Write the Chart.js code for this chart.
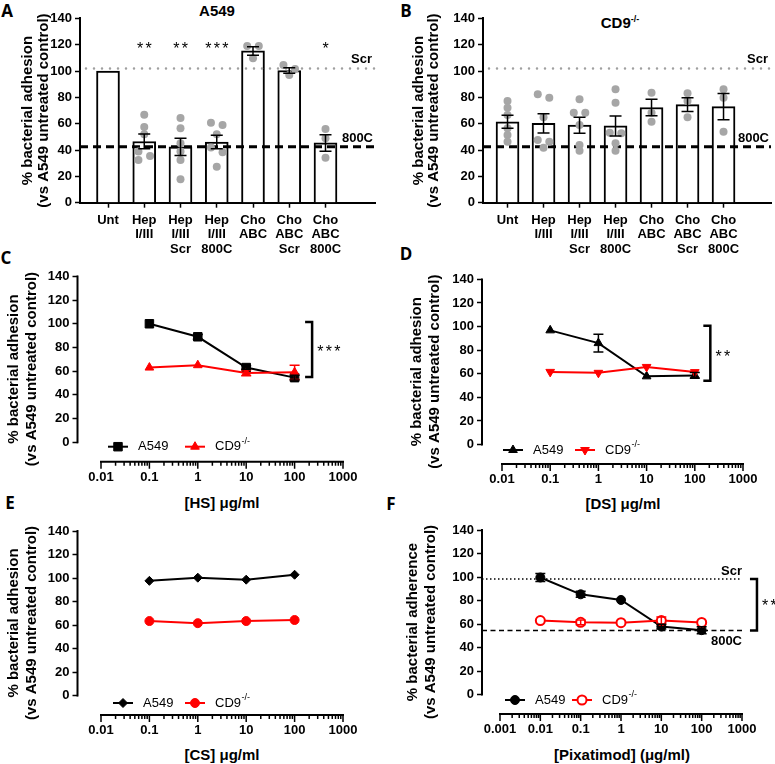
<!DOCTYPE html>
<html>
<head>
<meta charset="utf-8">
<script src="https://cdn.jsdelivr.net/npm/chart.js@4.4.1/dist/chart.umd.min.js"></script>
<style>
  body { margin: 0; background: #fff; }
  #fig { position: relative; width: 775px; height: 764px; overflow: hidden; font-family: 'Liberation Sans', Arial, sans-serif; color: #000; }
  #fig canvas { position: absolute; }
  .t { position: absolute; transform: translate(-50%, -50%); white-space: nowrap; font-weight: bold; line-height: 1; }
  .letter { font-family: 'Open Sans', 'Liberation Sans', sans-serif; font-size: 17px; }
  .ttl { font-size: 15px; }
  .xt { font-size: 15px; }
  sup { font-size: 9px; vertical-align: 6px; line-height: 0; }
</style>
</head>
<body>
<div id="fig">
  <div class="t letter" style="left:7px;top:10px">A</div>
  <div class="t letter" style="left:406px;top:10px">B</div>
  <div class="t letter" style="left:6px;top:257px">C</div>
  <div class="t letter" style="left:406px;top:253px">D</div>
  <div class="t letter" style="left:10px;top:502px">E</div>
  <div class="t letter" style="left:391px;top:503px">F</div>
  <div class="t ttl" style="left:217px;top:10px">A549</div>
  <div class="t ttl" style="left:620px;top:22px">CD9<sup>-/-</sup></div>
  <div class="t xt" style="left:222px;top:502px">[HS] μg/ml</div>
  <div class="t xt" style="left:623px;top:503px">[DS] μg/ml</div>
  <div class="t xt" style="left:222px;top:754px">[CS] μg/ml</div>
  <div class="t xt" style="left:622px;top:754px">[Pixatimod] (μg/ml)</div>
</div>
<script>
// ---------- data ----------
var barLabels = [['Unt'], ['Hep', 'I/III'], ['Hep', 'I/III', 'Scr'], ['Hep', 'I/III', '800C'],
                 ['Cho', 'ABC'], ['Cho', 'ABC', 'Scr'], ['Cho', 'ABC', '800C']];
var yTicks = [0, 20, 40, 60, 80, 100, 120, 140];

// panel A (A549 cells)
var a549Mean = [100, 46.5, 42.4, 46.1, 115.3, 100.4, 45.4];
var a549Sem = [0, 5.6, 6.6, 5.2, 3.2, 2.1, 6.3];
var a549Reps = [[], [66.8, 57.5, 52, 38.8, 35.5, 32.4], [64.3, 56.5, 45.1, 38.8, 32.4, 17.8],
                [59, 60.8, 52, 42, 38.3, 27.3], [119, 119, 109.7], [104.6, 101.5, 97], [56, 48.9, 34.2]];
var a549Stars = ['', '**', '**', '***', '', '', '*'];

// panel B (CD9-/- cells)
var cd9Mean = [61.5, 60.3, 58.9, 58.3, 72.3, 74.5, 73];
var cd9Sem = [5, 7.3, 6.1, 7.6, 6.2, 5.2, 9.9];
var cd9Reps = [[77.2, 72.2, 66.6, 56.5, 51.4, 46.3], [82.3, 79.7, 64.9, 47.6, 46.3, 41.8],
               [78.5, 68.4, 68.4, 59, 43.8, 39.5], [86.1, 76, 53.2, 52.7, 45.1, 39.5],
               [83.6, 68.4, 61.5], [83.1, 77.2, 64.9], [86.1, 79.7, 53.9]];
var scrLevel = 102;
var c800Level = 42.5;

// panels C-E
var concTicks = [0.01, 0.1, 1, 10, 100, 1000];
var conc = [0.1, 1, 10, 100];
var hsA549 = [100, 89, 63, 54.5];
var hsA549Err = [0, 2, 1.5, 2];
var hsCD9 = [63, 65, 58.5, 59];
var hsCD9Err = [0.5, 0.5, 2.5, 6];
var dsA549 = [96.8, 86, 57.8, 58.6];
var dsA549Err = [0.5, 7.5, 1, 2.5];
var dsCD9 = [61.6, 60.8, 65.8, 61.4];
var dsCD9Err = [0.5, 0.5, 1, 1];
var csA549 = [97.6, 100.3, 98.6, 102.8];
var csCD9 = [63.4, 61.6, 63.4, 64.3];

// panel F
var pixTicks = [0.001, 0.01, 0.1, 1, 10, 100, 1000];
var pixConc = [0.01, 0.1, 1, 10, 100];
var pixA549 = [99.6, 85.3, 80.5, 57.9, 54.8];
var pixA549Err = [3.5, 2.5, 1, 2, 3];
var pixCD9 = [63, 61.5, 61.2, 63, 61.4];
var pixCD9Err = [0.5, 2, 0.5, 3, 0.5];
var pixScr = 98.3;
var pix800C = 54.5;

// ---------- layout ----------
var P = {
  A: {left: 0, top: 0, w: 385, h: 262, area: {l: 80, t: 18.4, r: 375, b: 202.7}, t1x: 28, gap: 15.5, first: 108},
  B: {left: 385, top: 0, w: 390, h: 262, area: {l: 483, t: 18.4, r: 773, b: 202.7}, t1x: 419, gap: 15, first: 507.7},
  C: {left: 0, top: 262, w: 385, h: 250, area: {l: 77.5, t: 276.4, r: 343, b: 461.7}, t1x: 14, gap: 17.5, first: 101},
  D: {left: 385, top: 262, w: 390, h: 250, area: {l: 482, t: 279.4, r: 743, b: 464}, t1x: 417, gap: 17.5, first: 502},
  E: {left: 0, top: 512, w: 385, h: 252, area: {l: 77.5, t: 531, r: 343, b: 715}, t1x: 14, gap: 17.5, first: 101},
  F: {left: 385, top: 512, w: 390, h: 252, area: {l: 482, t: 530, r: 742, b: 714}, t1x: 413, gap: 17.5, first: 500}
};
var FONT = "'Liberation Sans', Arial, sans-serif";
var RED = '#ff0000';
var adhesion = ['% bacterial adhesion', '(vs A549 untreated control)'];

Chart.defaults.font.family = FONT;
Chart.defaults.color = '#000';

function addCanvas(p) {
  var c = document.createElement('canvas');
  c.width = p.w;
  c.height = p.h;
  c.style.left = p.left + 'px';
  c.style.top = p.top + 'px';
  document.getElementById('fig').appendChild(c);
  return c;
}

function layoutPad(p) {
  return {left: 0, top: p.area.t - p.top, right: p.left + p.w - p.area.r, bottom: 0};
}

function yScale(p, min, title) {
  return {
    type: 'linear', min: min, max: 140,
    afterBuildTicks: function(s) { s.ticks = yTicks.map(function(v) { return {value: v}; }); },
    afterFit: function(s) { s.width = p.area.l - p.left; },
    ticks: {font: {size: 13, weight: 'bold'}, padding: 3, autoSkip: false},
    grid: {drawOnChartArea: false, drawTicks: true, tickLength: 5, tickColor: '#000', tickWidth: 1.5},
    border: {display: min === 0, color: '#000', width: 2},
    title: {display: true, text: title, font: {size: 15, weight: 'bold', lineHeight: p.gap / 15},
            padding: {top: p.t1x - p.left - p.gap / 2, bottom: 0}}
  };
}

function hline(ctx, x1, x2, y, color, width, dash, cap) {
  ctx.save();
  ctx.strokeStyle = color;
  ctx.lineWidth = width;
  ctx.lineCap = cap || 'butt';
  ctx.setLineDash(dash);
  ctx.beginPath();
  ctx.moveTo(x1, y);
  ctx.lineTo(x2, y);
  ctx.stroke();
  ctx.restore();
}

function errBar(ctx, x, y1, y2, half, color) {
  ctx.save();
  ctx.strokeStyle = color;
  ctx.lineWidth = 1.5;
  ctx.beginPath();
  ctx.moveTo(x, y1); ctx.lineTo(x, y2);
  ctx.moveTo(x - half, y1); ctx.lineTo(x + half, y1);
  ctx.moveTo(x - half, y2); ctx.lineTo(x + half, y2);
  ctx.stroke();
  ctx.restore();
}

function label(ctx, txt, x, y, align, size, weight) {
  ctx.save();
  ctx.fillStyle = '#000';
  ctx.font = (weight || 'bold') + ' ' + (size || 13) + 'px ' + FONT;
  ctx.textAlign = align;
  ctx.textBaseline = 'middle';
  ctx.fillText(txt, x, y);
  ctx.restore();
}

// significance stars, drawn one by one so they are spread like in the figure
function stars(ctx, txt, cx, cy, size, step, align) {
  ctx.save();
  ctx.fillStyle = '#000';
  ctx.font = size + 'px ' + FONT;
  ctx.textAlign = 'center';
  ctx.textBaseline = 'alphabetic';
  var n = txt.length;
  var x0 = align === 'left' ? cx + step / 2 : cx - (n - 1) * step / 2;
  for (var i = 0; i < n; i++) ctx.fillText(txt[i], x0 + i * step, cy + size * 0.57);
  ctx.restore();
}

// replicate dots: values that sit close together are put left / right in turn
function spread(vals) {
  var idx = vals.map(function(v, i) { return i; }).sort(function(a, b) { return vals[b] - vals[a]; });
  var offs = vals.map(function() { return 0; });
  var i = 0;
  while (i < idx.length) {
    var j = i;
    while (j + 1 < idx.length && vals[idx[j]] - vals[idx[j + 1]] < 4) j++;
    if (j > i) {
      for (var k = i; k <= j; k++) offs[idx[k]] = ((k - i) % 2 === 0) ? -0.16 : 0.16;
    }
    i = j + 1;
  }
  return offs;
}

// ---------- bar panels (A, B) ----------
function barPanel(p, means, sem, reps, sig) {
  var step = 36.25;
  var xMin = 1 - (p.first - p.area.l) / step;
  var xMax = xMin + (p.area.r - p.area.l) / step;
  var bars = means.map(function(v, i) { return {x: i + 1, y: v}; });
  var dots = [];
  reps.forEach(function(list, i) {
    var o = spread(list);
    list.forEach(function(v, j) { dots.push({x: i + 1 + o[j], y: v}); });
  });

  var plugin = {
    id: 'barExtras',
    afterDatasetDraw: function(chart, args) {
      if (args.meta.type !== 'bar') return;
      var a = chart.chartArea, y = chart.scales.y;
      hline(chart.ctx, a.left + 6, a.right, y.getPixelForValue(scrLevel), '#a0a0a0', 2.5, [0, 8], 'round');
      hline(chart.ctx, a.left, a.right, y.getPixelForValue(c800Level), '#000', 3, [8, 5]);
    },
    afterDatasetsDraw: function(chart) {
      var ctx = chart.ctx, a = chart.chartArea, x = chart.scales.x, y = chart.scales.y;
      means.forEach(function(m, i) {
        var px = x.getPixelForValue(i + 1);
        if (sem[i] > 0) errBar(ctx, px, y.getPixelForValue(m + sem[i]), y.getPixelForValue(m - sem[i]), 6, '#000');
        if (sig[i]) stars(ctx, sig[i], px, y.getPixelForValue(120), 16, 8.5);
      });
      label(ctx, 'Scr', a.right - 3, y.getPixelForValue(scrLevel) - 9, 'right');
      label(ctx, '800C', a.right - 2, y.getPixelForValue(c800Level) - 8, 'right');
    }
  };

  return new Chart(addCanvas(p), {
    type: 'bar',
    data: {
      datasets: [
        {type: 'bar', data: bars, backgroundColor: '#fff', borderColor: '#000', borderWidth: 2,
         barThickness: 23, order: 2},
        {type: 'scatter', data: dots, pointRadius: 4, pointBackgroundColor: '#a6a6a6',
         pointBorderWidth: 0, order: 1}
      ]
    },
    options: {
      responsive: false, animation: false, devicePixelRatio: 1, events: [],
      layout: {padding: layoutPad(p)},
      plugins: {legend: {display: false}, tooltip: {enabled: false}},
      scales: {
        x: {
          type: 'linear', min: xMin, max: xMax, offset: false,
          afterBuildTicks: function(s) { s.ticks = barLabels.map(function(l, i) { return {value: i + 1}; }); },
          afterFit: function(s) { s.height = p.top + p.h - p.area.b; },
          ticks: {font: {size: 13, weight: 'bold', lineHeight: 1.12}, padding: 5, autoSkip: false, maxRotation: 0,
                  callback: function(v, i) { return barLabels[i]; }},
          grid: {offset: false, drawOnChartArea: false, drawTicks: true, tickLength: 5, tickColor: '#000', tickWidth: 1.5},
          border: {display: true, color: '#000', width: 2}
        },
        y: yScale(p, 0, adhesion)
      }
    },
    plugins: [plugin]
  });
}

// ---------- dose-response panels (C-F) ----------
function linePanel(p, cfg) {
  var lg = Math.log10;
  var t0 = cfg.ticks[0], t1 = cfg.ticks[cfg.ticks.length - 1];
  var decPx = (p.area.r - p.first) / (lg(t1) - lg(t0));
  var xMin = t0 / Math.pow(10, (p.first - p.area.l) / decPx);

  var plugin = {
    id: 'lineExtras',
    beforeDatasetsDraw: function(chart) {
      var a = chart.chartArea, y = chart.scales.y;
      if (cfg.refs) {
        hline(chart.ctx, a.left, a.right, y.getPixelForValue(cfg.refs.scr), '#000', 1.5, [1.5, 2.5]);
        hline(chart.ctx, a.left, a.right, y.getPixelForValue(cfg.refs.c800), '#000', 1.5, [5, 3.5]);
      }
    },
    afterDatasetsDraw: function(chart) {
      var ctx = chart.ctx, a = chart.chartArea, x = chart.scales.x, y = chart.scales.y;
      // error bars
      cfg.errors.forEach(function(e, di) {
        if (!e) return;
        var meta = chart.getDatasetMeta(di);
        var ds = chart.data.datasets[di];
        meta.data.forEach(function(el, j) {
          var v = ds.data[j].y;
          if (e[j] > 1) errBar(ctx, el.x, y.getPixelForValue(v + e[j]), y.getPixelForValue(v - e[j]), 5, ds.borderColor);
        });
      });
      // axes in the detached Prism style
      ctx.save();
      ctx.strokeStyle = '#000';
      ctx.lineWidth = 2;
      ctx.beginPath();
      ctx.moveTo(a.left, y.getPixelForValue(0) + 1);
      ctx.lineTo(a.left, y.getPixelForValue(140) - 1);
      var xa = x.getPixelForValue(t0), xb = x.getPixelForValue(t1);
      ctx.moveTo(xa - 1, a.bottom);
      ctx.lineTo(xb + 1, a.bottom);
      ctx.stroke();
      ctx.lineWidth = 1.5;
      ctx.beginPath();
      for (var d = t0; d < t1 * 1.01; d *= 10) {
        var px = x.getPixelForValue(d);
        ctx.moveTo(px, a.bottom); ctx.lineTo(px, a.bottom + 7);
        if (d < t1 * 0.99) {
          for (var k = 2; k <= 9; k++) {
            var mx = x.getPixelForValue(d * k);
            ctx.moveTo(mx, a.bottom); ctx.lineTo(mx, a.bottom + 4);
          }
        }
      }
      ctx.stroke();
      ctx.restore();
      // legend inside the plot
      var ly = a.bottom - cfg.legend.dy;
      cfg.legend.items.forEach(function(it) {
        var ds = chart.data.datasets[it.ds];
        var x0 = a.left + it.x;
        ctx.save();
        ctx.strokeStyle = ds.borderColor;
        ctx.lineWidth = 2;
        ctx.beginPath(); ctx.moveTo(x0, ly); ctx.lineTo(x0 + 20, ly); ctx.stroke();
        ctx.fillStyle = ds.pointBackgroundColor;
        ctx.strokeStyle = ds.pointBorderColor;
        ctx.lineWidth = ds.pointBorderWidth;
        Chart.helpers.drawPoint(ctx, {pointStyle: ds.pointStyle, rotation: ds.pointRotation || 0,
          radius: ds.pointRadius, borderWidth: ds.pointBorderWidth}, x0 + 10, ly);
        ctx.restore();
        label(ctx, it.text, x0 + 30, ly, 'left', 13, 'normal');
        if (it.sup) {
          ctx.save();
          ctx.font = '13px ' + FONT;
          var w = ctx.measureText(it.text).width;
          ctx.restore();
          label(ctx, it.sup, x0 + 30 + w + 0.5, ly - 5, 'left', 9, 'normal');
        }
      });
      // significance bracket
      var b = cfg.bracket;
      if (b) {
        var bx = x.getPixelForValue(b.x), by1 = y.getPixelForValue(b.top), by2 = y.getPixelForValue(b.bottom);
        ctx.save();
        ctx.strokeStyle = '#000';
        ctx.lineWidth = 2.5;
        ctx.beginPath();
        ctx.moveTo(bx - 7, by1); ctx.lineTo(bx, by1); ctx.lineTo(bx, by2); ctx.lineTo(bx - 7, by2);
        ctx.stroke();
        ctx.restore();
        stars(ctx, b.stars, bx + 4, y.getPixelForValue(b.starsAt), 16, 8.5, 'left');
      }
      if (cfg.refs) {
        label(ctx, 'Scr', a.right, y.getPixelForValue(cfg.refs.scr) - 8, 'right');
        label(ctx, '800C', a.right, y.getPixelForValue(cfg.refs.c800) + 11, 'right');
      }
    }
  };

  return new Chart(addCanvas(p), {
    type: 'line',
    data: {datasets: cfg.datasets},
    options: {
      responsive: false, animation: false, devicePixelRatio: 1, events: [],
      layout: {padding: layoutPad(p)},
      plugins: {legend: {display: false}, tooltip: {enabled: false}},
      elements: {line: {tension: 0, borderWidth: 2}},
      scales: {
        x: {
          type: 'logarithmic', min: xMin, max: t1,
          afterBuildTicks: function(s) { s.ticks = cfg.ticks.map(function(v) { return {value: v}; }); },
          afterFit: function(s) { s.height = p.top + p.h - p.area.b; },
          ticks: {font: {size: 13, weight: 'bold'}, padding: 8, autoSkip: false, maxRotation: 0,
                  callback: function(v, i) { return String(cfg.ticks[i]); }},
          grid: {display: false, drawTicks: false},
          border: {display: false}
        },
        y: yScale(p, -16.5, cfg.yTitle)
      }
    },
    plugins: [plugin]
  });
}

function pts(xs, ys) { return xs.map(function(x, i) { return {x: x, y: ys[i]}; }); }

function series(data, color, style, radius, extra) {
  var d = {data: data, borderColor: color, backgroundColor: color, pointBackgroundColor: color,
           pointBorderColor: color, pointStyle: style, pointRadius: radius, pointBorderWidth: 1,
           borderWidth: 2, tension: 0};
  for (var k in extra) d[k] = extra[k];
  return d;
}

barPanel(P.A, a549Mean, a549Sem, a549Reps, a549Stars);
barPanel(P.B, cd9Mean, cd9Sem, cd9Reps, ['', '', '', '', '', '', '']);

linePanel(P.C, {
  ticks: concTicks, yTitle: adhesion,
  datasets: [series(pts(conc, hsCD9), RED, 'triangle', 5, {order: 0}),
             series(pts(conc, hsA549), '#000', 'rect', 6, {order: 1})],
  errors: [hsCD9Err, hsA549Err],
  legend: {dy: 15, items: [{ds: 1, x: 30.5, text: 'A549'}, {ds: 0, x: 107.5, text: 'CD9', sup: '-/-'}]},
  bracket: {x: 230, top: 101.4, bottom: 55, stars: '***', starsAt: 79.5}
});

linePanel(P.D, {
  ticks: concTicks, yTitle: adhesion,
  datasets: [series(pts(conc, dsCD9), RED, 'triangle', 5, {order: 0, pointRotation: 180}),
             series(pts(conc, dsA549), '#000', 'triangle', 5, {order: 1})],
  errors: [dsCD9Err, dsA549Err],
  legend: {dy: 14, items: [{ds: 1, x: 21, text: 'A549'}, {ds: 0, x: 93, text: 'CD9', sup: '-/-'}]},
  bracket: {x: 210, top: 100.6, bottom: 54, stars: '**', starsAt: 78}
});

linePanel(P.E, {
  ticks: concTicks, yTitle: adhesion,
  datasets: [series(pts(conc, csCD9), RED, 'circle', 4.5, {order: 0}),
             series(pts(conc, csA549), '#000', 'rectRot', 4.5, {order: 1})],
  errors: [null, null],
  legend: {dy: 12, items: [{ds: 1, x: 35.5, text: 'A549'}, {ds: 0, x: 107.5, text: 'CD9', sup: '-/-'}]},
  bracket: null
});

linePanel(P.F, {
  ticks: pixTicks, yTitle: ['% bacterial adherence', '(vs A549 untreated control)'],
  datasets: [series(pts(pixConc, pixCD9), RED, 'circle', 4.5, {order: 0, pointBackgroundColor: '#fff', pointBorderWidth: 2}),
             series(pts(pixConc, pixA549), '#000', 'circle', 4.5, {order: 1})],
  errors: [pixCD9Err, pixA549Err],
  refs: {scr: pixScr, c800: pix800C},
  legend: {dy: 14, items: [{ds: 1, x: 23, text: 'A549'}, {ds: 0, x: 90, text: 'CD9', sup: '-/-'}]},
  bracket: {x: 2350, top: pixScr, bottom: pix800C, stars: '**', starsAt: 79}
});
</script>
</body>
</html>
